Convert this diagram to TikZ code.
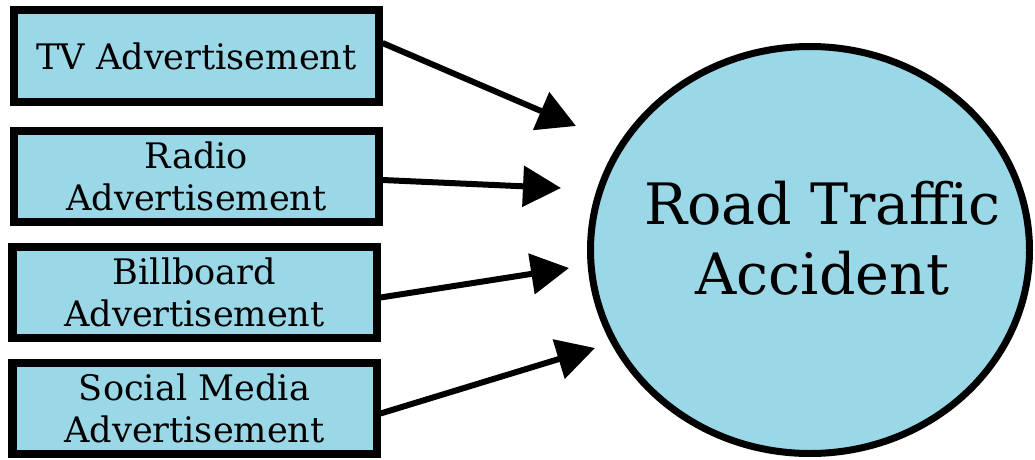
\documentclass[tikz,border=0pt]{standalone}
\usepackage{fontspec}
\setmainfont{DejaVu Serif}
\usepackage{tikz}
\usetikzlibrary{arrows.meta,shapes.geometric}
\definecolor{boxblue}{RGB}{154,216,232}

\begin{document}
\begin{tikzpicture}[
  adbox/.style={draw=black,fill=boxblue,line width=0.16cm,inner sep=0pt,
    minimum width=7.28cm,minimum height=1.82cm,align=center,
    font=\fontsize{20}{24}\selectfont},
  feed/.style={line width=0.12cm,-{Triangle[length=0.76cm,width=0.8cm]}}]
\useasboundingbox (0,0) rectangle (20.7,-9.18);
\node[adbox] (tv) at (3.93,-1.12) {TV Advertisement};
\node[adbox] (radio) at (3.93,-3.52) {Radio\\Advertisement};
\node[adbox] (bill) at (3.89,-5.85) {Billboard\\Advertisement};
\node[adbox] (social) at (3.89,-8.17) {Social Media\\Advertisement};
\node[draw=black,fill=boxblue,line width=0.14cm,ellipse,inner sep=0pt,
  minimum width=8.78cm,minimum height=8.14cm] (rta) at (16.2,-5.0) {};
\node[align=center,font=\fontsize{32.5}{40}\selectfont] (rtaText)
  at (16.45,-4.76) {Road Traffic\\Accident};
\coordinate (t1) at (11.52,-2.52);
\coordinate (t2) at (11.22,-3.76);
\coordinate (t3) at (11.38,-5.36);
\coordinate (t4) at (11.9,-6.96);
\draw[feed] ([yshift=0.26cm]tv.east) -- (t1);
\draw[feed] ([yshift=-0.08cm]radio.east) -- (t2);
\draw[feed] ([yshift=-0.1cm]bill.east) -- (t3);
\draw[feed] ([yshift=-0.1cm]social.east) -- (t4);
\end{tikzpicture}
\end{document}
